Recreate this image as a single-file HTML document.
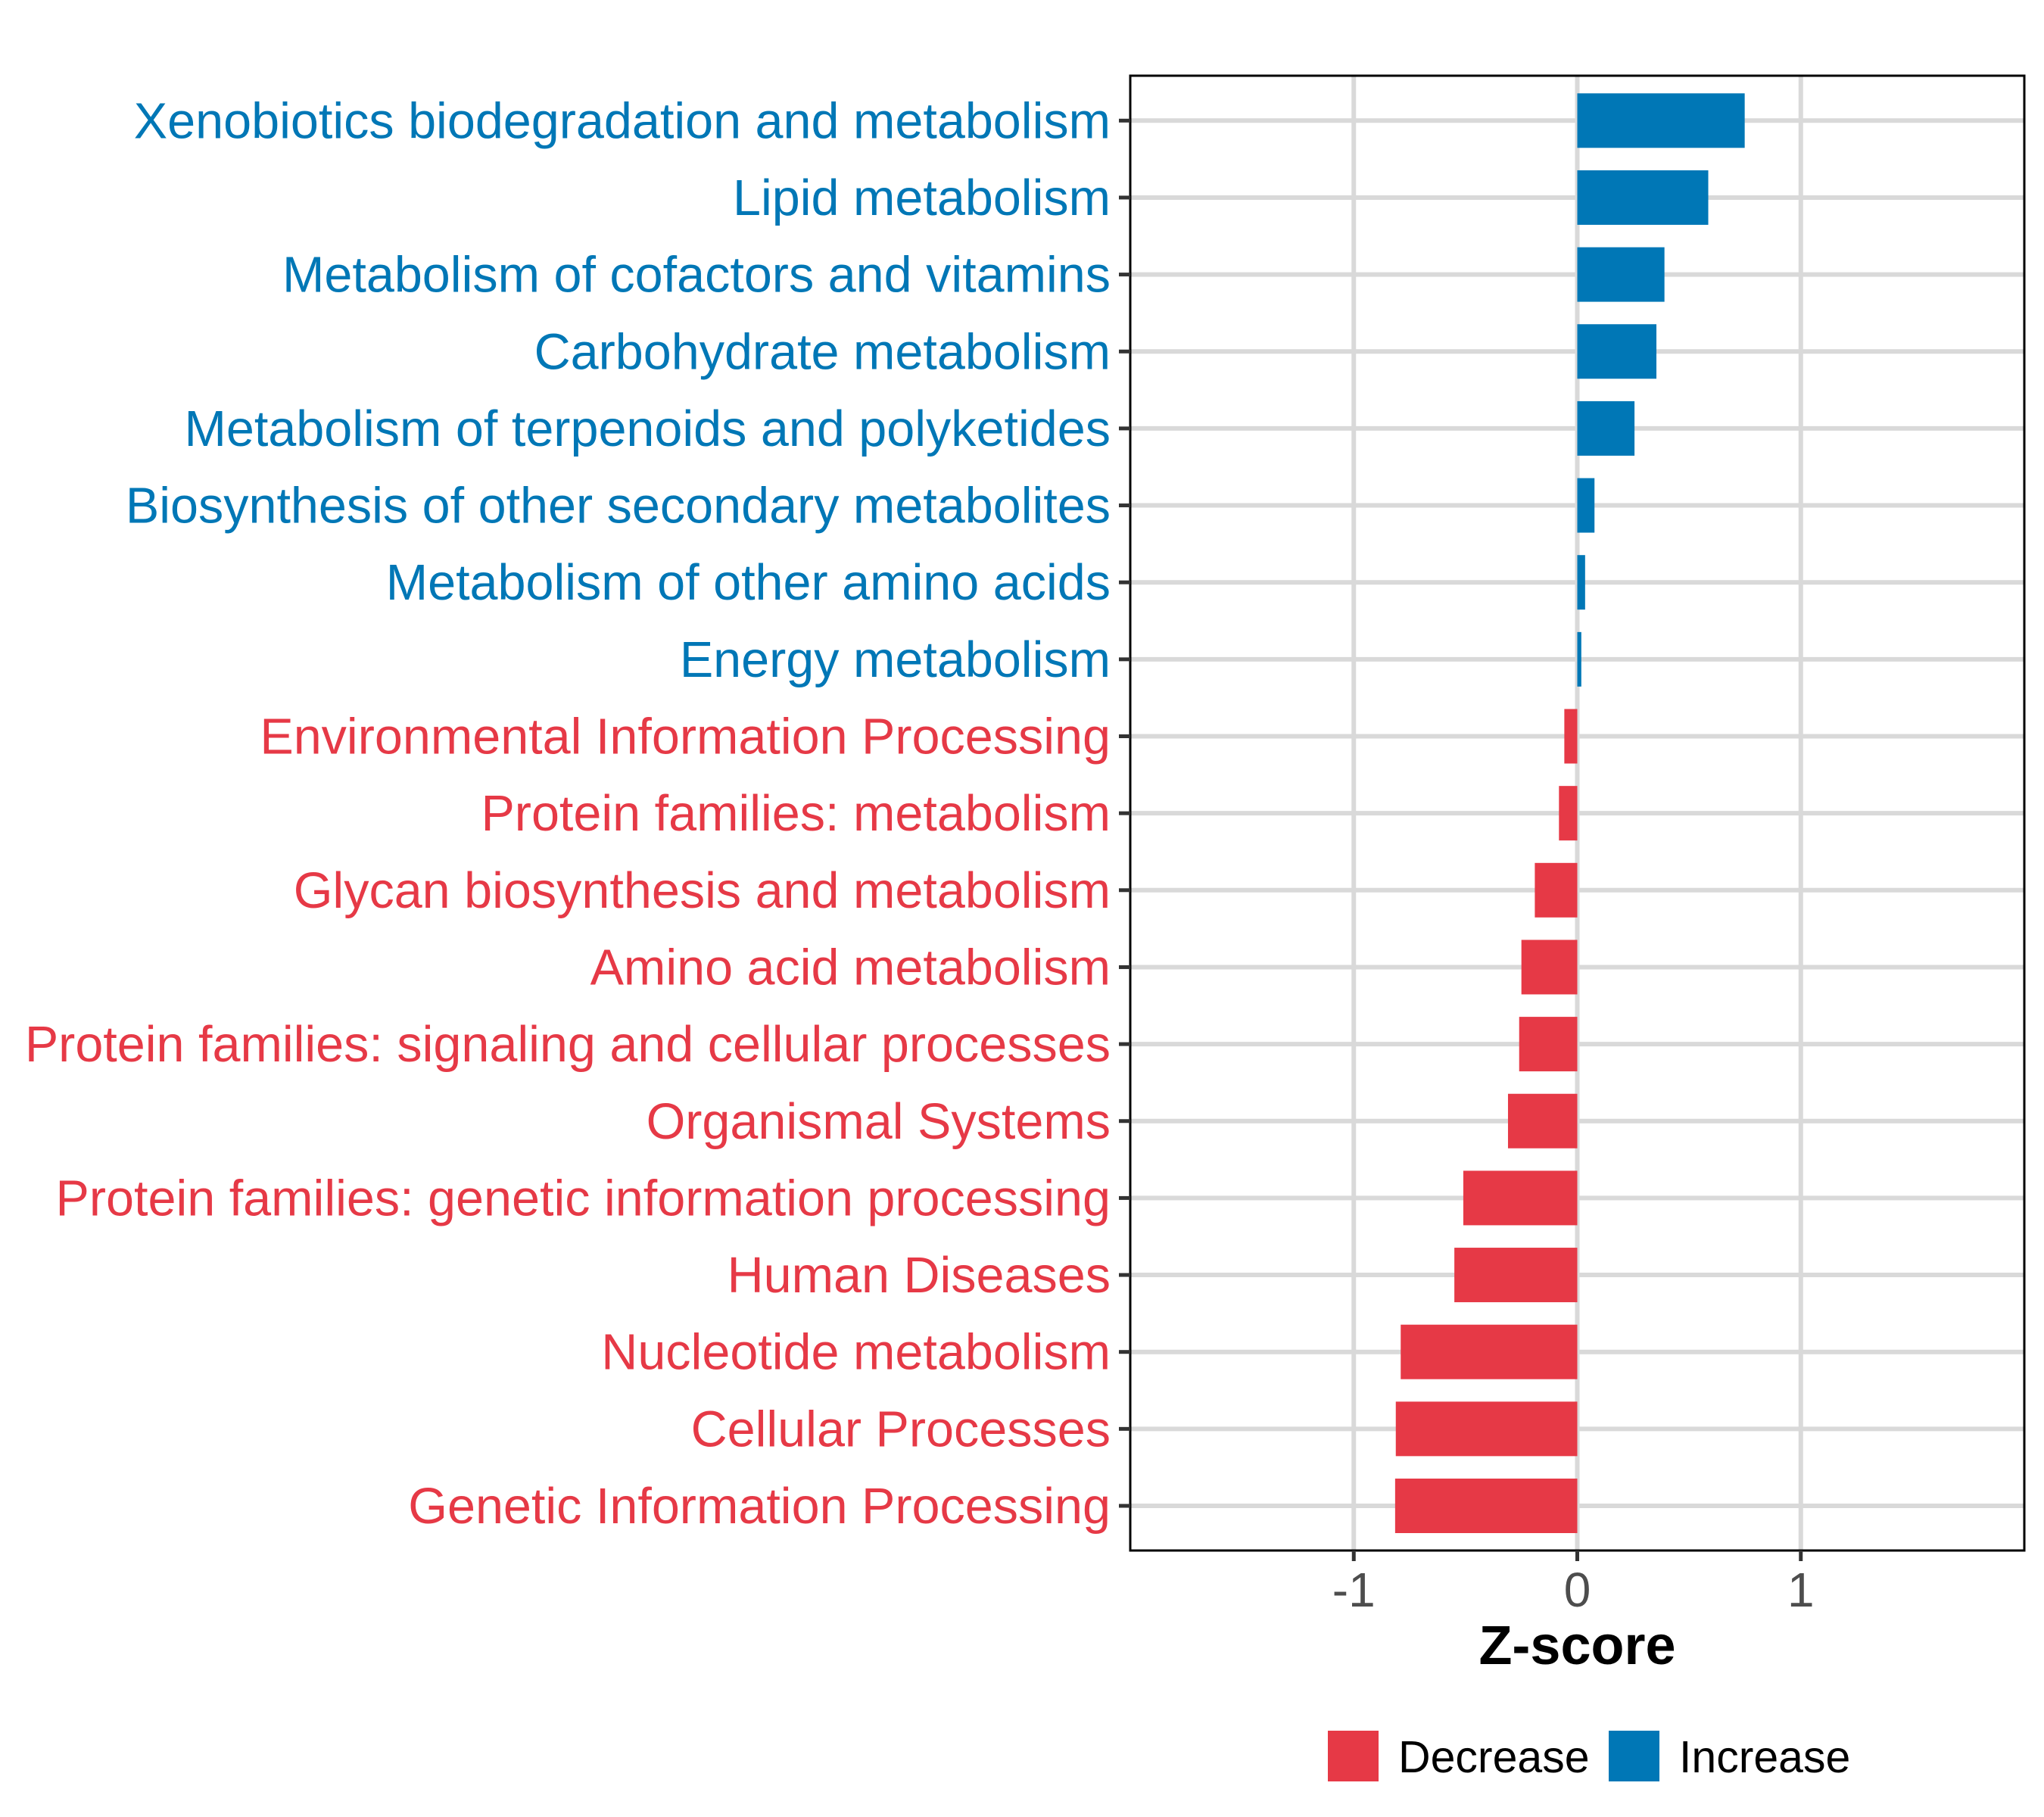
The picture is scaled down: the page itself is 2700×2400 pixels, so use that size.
<!DOCTYPE html>
<html><head><meta charset="utf-8"><style>html,body{margin:0;padding:0;background:#fff}svg{display:block}</style></head>
<body>
<svg id="chart" width="2700" height="2400" xmlns="http://www.w3.org/2000/svg" font-family="Liberation Sans, Arial, sans-serif"></svg>
<script>
const categories = ["Xenobiotics biodegradation and metabolism","Lipid metabolism","Metabolism of cofactors and vitamins","Carbohydrate metabolism","Metabolism of terpenoids and polyketides","Biosynthesis of other secondary metabolites","Metabolism of other amino acids","Energy metabolism","Environmental Information Processing","Protein families: metabolism","Glycan biosynthesis and metabolism","Amino acid metabolism","Protein families: signaling and cellular processes","Organismal Systems","Protein families: genetic information processing","Human Diseases","Nucleotide metabolism","Cellular Processes","Genetic Information Processing"];
const zscores = [0.749,0.586,0.39,0.354,0.256,0.077,0.035,0.018,-0.058,-0.082,-0.19,-0.25,-0.26,-0.31,-0.51,-0.55,-0.79,-0.812,-0.815];
const xTicks = [-1,0,1];
const xTickLabels = ["-1","0","1"];
const legendLabels = ["Decrease","Increase"];

const NS="http://www.w3.org/2000/svg";
const svg=document.getElementById('chart');
const RED="#e63946", BLUE="#0077b6";
const L=1493,R=2674,T=100,B=2048;
const xMin=-2,xMax=2;
const x=v=>L+(v-xMin)/(xMax-xMin)*(R-L);
const y0=159.3, step=(1989-159.3)/(categories.length-1);
const y=i=>y0+i*step;
const barH=72;
function mk(tag,attrs,parent){const e=document.createElementNS(NS,tag);for(const k in attrs)e.setAttribute(k,attrs[k]);(parent||svg).appendChild(e);return e;}

xTicks.forEach((t,i)=>{
  const g=mk('line',{x1:x(t),x2:x(t),y1:T,y2:B,stroke:'#d9d9d9','stroke-width':6});
  
  
});
categories.forEach((c,i)=>{
  const g=mk('line',{x1:L,x2:R,y1:y(i),y2:y(i),stroke:'#d9d9d9','stroke-width':6});
  
  
});
categories.forEach((c,i)=>{
  const v=zscores[i];
  const b=mk('rect',{x:Math.min(x(0),x(v)),y:y(i)-barH/2,width:Math.abs(x(v)-x(0)),height:barH,fill:v>=0?BLUE:RED});
  
  
});
const pb=mk('rect',{x:L,y:T,width:R-L,height:B-T,fill:'none',stroke:'#000','stroke-width':3});


categories.forEach((c,i)=>{
  const tk=mk('line',{x1:L-15,x2:L,y1:y(i),y2:y(i),stroke:'#333','stroke-width':5});
  
  
  const t=mk('text',{x:1467,y:y(i)+23,'text-anchor':'end','font-size':66.5,fill:zscores[i]>=0?BLUE:RED});
  t.textContent=c;
  
  
});
xTicks.forEach((t,i)=>{
  const tk=mk('line',{x1:x(t),x2:x(t),y1:B,y2:B+14,stroke:'#333','stroke-width':5});
  
  
  const lb=mk('text',{x:x(t),y:2122,'text-anchor':'middle','font-size':64,fill:'#4d4d4d'});
  lb.textContent=xTickLabels[i];
  
  
});
const xt=mk('text',{x:x(0),y:2198,'text-anchor':'middle','font-size':72,'font-weight':'bold',fill:'#000'});
xt.textContent="Z-score";


const legX=[1754,2125], legColors=[RED,BLUE];
legendLabels.forEach((l,i)=>{
  const r=mk('rect',{x:legX[i],y:2286,width:67,height:67,fill:legColors[i]});
  
  
  const t=mk('text',{x:legX[i]+93,y:2341,'font-size':59,fill:'#000'});
  t.textContent=l;
  
  
});
</script>
</body></html>
